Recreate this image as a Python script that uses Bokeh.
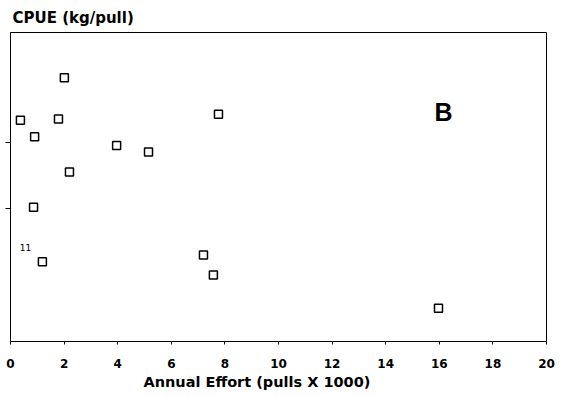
from bokeh.plotting import figure
from bokeh.models import Range1d, FixedTicker, Label, Title
from bokeh.embed import file_html
from bokeh.resources import INLINE

effort = [0.37, 2.01, 1.79, 0.90, 3.96, 5.15, 7.76, 2.20, 0.86, 1.19, 7.20, 7.57, 15.97]
cpue = [3.33, 3.97, 3.35, 3.08, 2.95, 2.85, 3.42, 2.55, 2.02, 1.20, 1.30, 1.00, 0.50]
x_ticks = [0, 2, 4, 6, 8, 10, 12, 14, 16, 18, 20]
y_ticks = [2, 3]

FONT = "DejaVu Sans"

p = figure(width=560, height=391, output_backend="svg", toolbar_location=None,
           x_range=Range1d(0, 20), y_range=Range1d(0, 4.65),
           min_border_left=10, min_border_right=14, min_border_top=5, min_border_bottom=0)
p.title.text = "CPUE (kg/pull)"
p.title.text_font = FONT
p.title.text_font_size = "15px"
p.title.text_font_style = "bold"
p.title.text_color = "black"
p.title.align = "left"
p.title.offset = 2
p.title.standoff = 12

p.grid.visible = False
p.outline_line_color = "black"
p.outline_line_width = 1
p.background_fill_color = "white"
p.border_fill_color = "white"

p.xaxis.ticker = FixedTicker(ticks=x_ticks)
p.xaxis.major_label_text_font = FONT
p.xaxis.major_label_text_font_size = "12px"
p.xaxis.major_label_text_font_style = "bold"
p.xaxis.major_label_text_color = "black"
p.xaxis.major_tick_in = 0
p.xaxis.major_tick_out = 3
p.xaxis.minor_tick_out = 0
p.xaxis.minor_tick_in = 0
p.xaxis.major_label_standoff = 14
p.xaxis.axis_line_color = "black"
p.xaxis.major_tick_line_color = "black"

p.yaxis.ticker = FixedTicker(ticks=y_ticks)
p.yaxis.major_label_overrides = {2: "", 3: ""}
p.yaxis.major_tick_in = 0
p.yaxis.major_tick_out = 5
p.yaxis.minor_tick_out = 0
p.yaxis.minor_tick_in = 0
p.yaxis.major_label_standoff = 0
p.yaxis.axis_line_color = "black"
p.yaxis.major_tick_line_color = "black"

p.add_layout(Title(text="Annual Effort (pulls X 1000)", text_font=FONT,
                   text_font_size="14.5px", text_font_style="bold", text_color="black",
                   align="left", offset=133, standoff=3), "below")

p.scatter(effort, cpue, marker="square", size=8, fill_color="white",
          line_color="black", line_width=1.5)

p.add_layout(Label(x=16.16, y=3.45, text="B", text_font="Liberation Sans",
                   text_font_size="25px", text_font_style="bold", text_align="center",
                   text_baseline="middle", text_color="black"))
p.add_layout(Label(x=0.56, y=1.41, text="11", text_font=FONT, text_font_size="9px",
                   text_align="center", text_baseline="middle", text_color="black"))

open("out.html", "w").write(file_html(p, INLINE))
